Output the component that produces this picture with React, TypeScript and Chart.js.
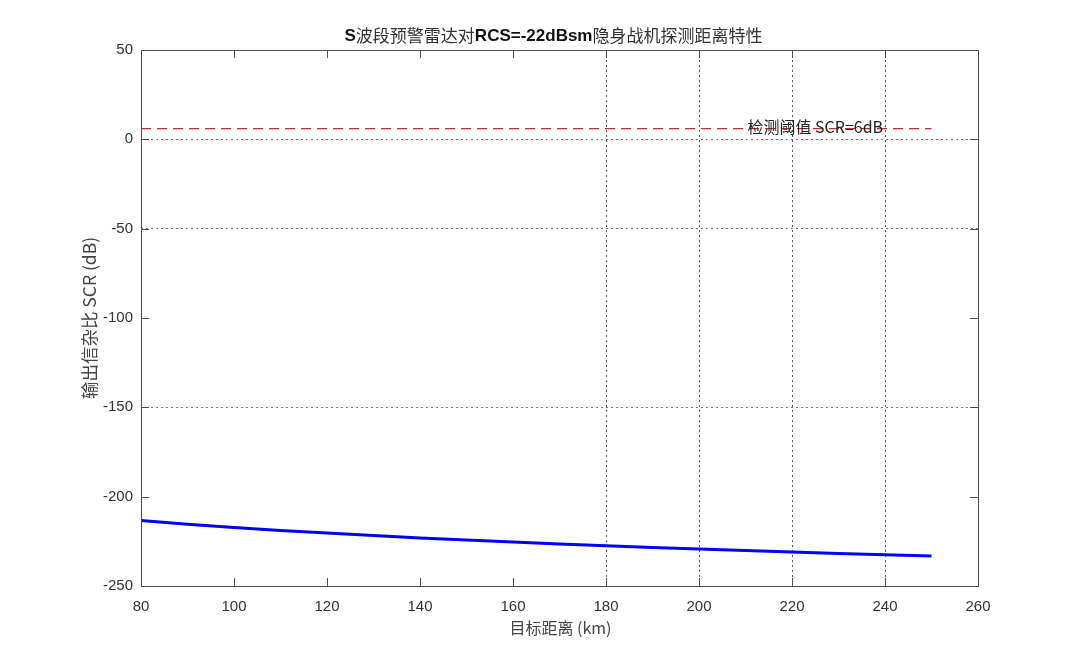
import { useEffect, useRef } from "react"
import { Chart, type ChartConfiguration, type Plugin, registerables } from "chart.js"

Chart.register(...registerables)

// distance (km) and output SCR (dB)
const distanceKm = [80, 90, 100, 110, 120, 130, 140, 150, 160, 170, 180, 190, 200, 210, 220, 230, 240, 250]
const scrDb = [
  -213.4, -215.4, -217.3, -218.9, -220.4, -221.8, -223.1, -224.3, -225.4, -226.5, -227.5, -228.5, -229.3,
  -230.2, -231.0, -231.8, -232.5, -233.2,
]

// detection threshold line
const thresholdDb = 6
const thresholdRangeKm = [80, 250]
const thresholdLabel = "检测阈值 SCR=6dB"
const thresholdLabelAtKm = 225

// axes
const xMin = 80
const xMax = 260
const xStep = 20
const yMin = -250
const yMax = 50
const yStep = 50

// only these grid lines are shown in the original figure
const xGridValues = [180, 200, 220, 240]
const yGridValues = [0, -50, -150]

const titleParts = [
  { text: "S", bold: true },
  { text: "波段预警雷达对", bold: false },
  { text: "RCS=-22dBsm", bold: true },
  { text: "隐身战机探测距离特性", bold: false },
]
const xTitle = "目标距离 (km)"
const yTitle = "输出信杂比 SCR (dB)"

const LATIN = '"Liberation Sans", Arial, sans-serif'
const CJK = '"Noto Sans CJK SC", "Liberation Sans", sans-serif'

const matlabAxes: Plugin<"line"> = {
  id: "matlabAxes",
  afterDatasetsDraw(chart) {
    const { ctx, scales } = chart
    const x = scales.x.getPixelForValue(thresholdLabelAtKm)
    const y = scales.y.getPixelForValue(thresholdDb)
    ctx.save()
    ctx.font = `16px ${CJK}`
    ctx.fillStyle = "#222"
    ctx.textAlign = "center"
    ctx.textBaseline = "middle"
    ctx.fillText(thresholdLabel, x, y - 1.5)
    ctx.restore()
  },
  afterDraw(chart) {
    const { ctx, chartArea: a, scales } = chart
    ctx.save()
    ctx.strokeStyle = "#4d4d4d"
    ctx.lineWidth = 1
    ctx.strokeRect(Math.round(a.left) + 0.5, Math.round(a.top) + 0.5, Math.round(a.width), Math.round(a.height))

    // inward ticks on all four sides
    const len = 8
    ctx.beginPath()
    scales.x.ticks.forEach((t) => {
      const px = Math.round(scales.x.getPixelForValue(t.value)) + 0.5
      ctx.moveTo(px, a.bottom)
      ctx.lineTo(px, a.bottom - len)
      ctx.moveTo(px, a.top)
      ctx.lineTo(px, a.top + len)
    })
    scales.y.ticks.forEach((t) => {
      const py = Math.round(scales.y.getPixelForValue(t.value)) + 0.5
      ctx.moveTo(a.left, py)
      ctx.lineTo(a.left + len, py)
      ctx.moveTo(a.right, py)
      ctx.lineTo(a.right - len, py)
    })
    ctx.stroke()

    // title with mixed bold latin and regular chinese
    const cx = (a.left + a.right) / 2
    const fonts = titleParts.map((p) => (p.bold ? `bold 17px ${LATIN}` : `17px ${CJK}`))
    const widths = titleParts.map((p, i) => {
      ctx.font = fonts[i]
      return ctx.measureText(p.text).width
    })
    let tx = cx - 6 - widths.reduce((s, w) => s + w, 0) / 2
    ctx.textBaseline = "middle"
    ctx.textAlign = "left"
    titleParts.forEach((p, i) => {
      ctx.font = fonts[i]
      ctx.fillStyle = p.bold ? "#111" : "#333"
      ctx.fillText(p.text, tx, 36)
      tx += widths[i]
    })

    // axis titles
    ctx.fillStyle = "#444"
    ctx.font = `16px ${CJK}`
    ctx.textAlign = "center"
    ctx.fillText(xTitle, cx + 1, 628)
    ctx.font = `17.5px ${CJK}`
    ctx.translate(89, (a.top + a.bottom) / 2)
    ctx.rotate(-Math.PI / 2)
    ctx.fillText(yTitle, 0, 0)
    ctx.restore()
  },
}

export default function App() {
  const chartRef = useRef<HTMLCanvasElement>(null)
  const chartInstance = useRef<Chart | null>(null)

  useEffect(() => {
    if (!chartRef.current) return
    if (chartInstance.current) chartInstance.current.destroy()
    const ctx = chartRef.current.getContext("2d")
    if (!ctx) return

    const config: ChartConfiguration<"line"> = {
      type: "line",
      data: {
        datasets: [
          {
            label: "SCR",
            data: distanceKm.map((d, i) => ({ x: d, y: scrDb[i] })),
            borderColor: "#0000ff",
            borderWidth: 3,
            pointRadius: 0,
            tension: 0,
          },
          {
            label: "threshold",
            data: thresholdRangeKm.map((d) => ({ x: d, y: thresholdDb })),
            borderColor: "#c42b2b",
            borderWidth: 1.2,
            borderDash: [10, 6],
            pointRadius: 0,
          },
        ],
      },
      options: {
        animation: false,
        responsive: true,
        maintainAspectRatio: false,
        layout: { padding: { left: 0, top: 50, right: 102, bottom: 0 } },
        plugins: {
          legend: { display: false },
          title: { display: false },
          tooltip: { enabled: false },
        },
        scales: {
          x: {
            type: "linear",
            min: xMin,
            max: xMax,
            afterFit: (s) => {
              s.height = 72
            },
            ticks: {
              stepSize: xStep,
              padding: 12,
              color: "#333",
              font: { family: LATIN, size: 15 },
            },
            grid: {
              drawTicks: false,
              lineWidth: 1,
              color: (c) => (xGridValues.includes(c.tick?.value) ? "#555" : "rgba(0,0,0,0)"),
            },
            border: { display: false, dash: [2, 3] },
          },
          y: {
            type: "linear",
            min: yMin,
            max: yMax,
            afterFit: (s) => {
              s.width = 141
            },
            ticks: {
              stepSize: yStep,
              padding: 8,
              color: "#333",
              font: { family: LATIN, size: 15 },
            },
            grid: {
              drawTicks: false,
              lineWidth: 1,
              color: (c) => (yGridValues.includes(c.tick?.value) ? "#777" : "rgba(0,0,0,0)"),
            },
            border: { display: false, dash: [2, 3] },
          },
        },
      },
      plugins: [matlabAxes],
    }

    chartInstance.current = new Chart(ctx, config)

    return () => {
      if (chartInstance.current) {
        chartInstance.current.destroy()
        chartInstance.current = null
      }
    }
  }, [])

  return (
    <div style={{ position: "absolute", left: 0, top: 0, width: 1080, height: 658, background: "#fff" }}>
      <canvas ref={chartRef} />
    </div>
  )
}
